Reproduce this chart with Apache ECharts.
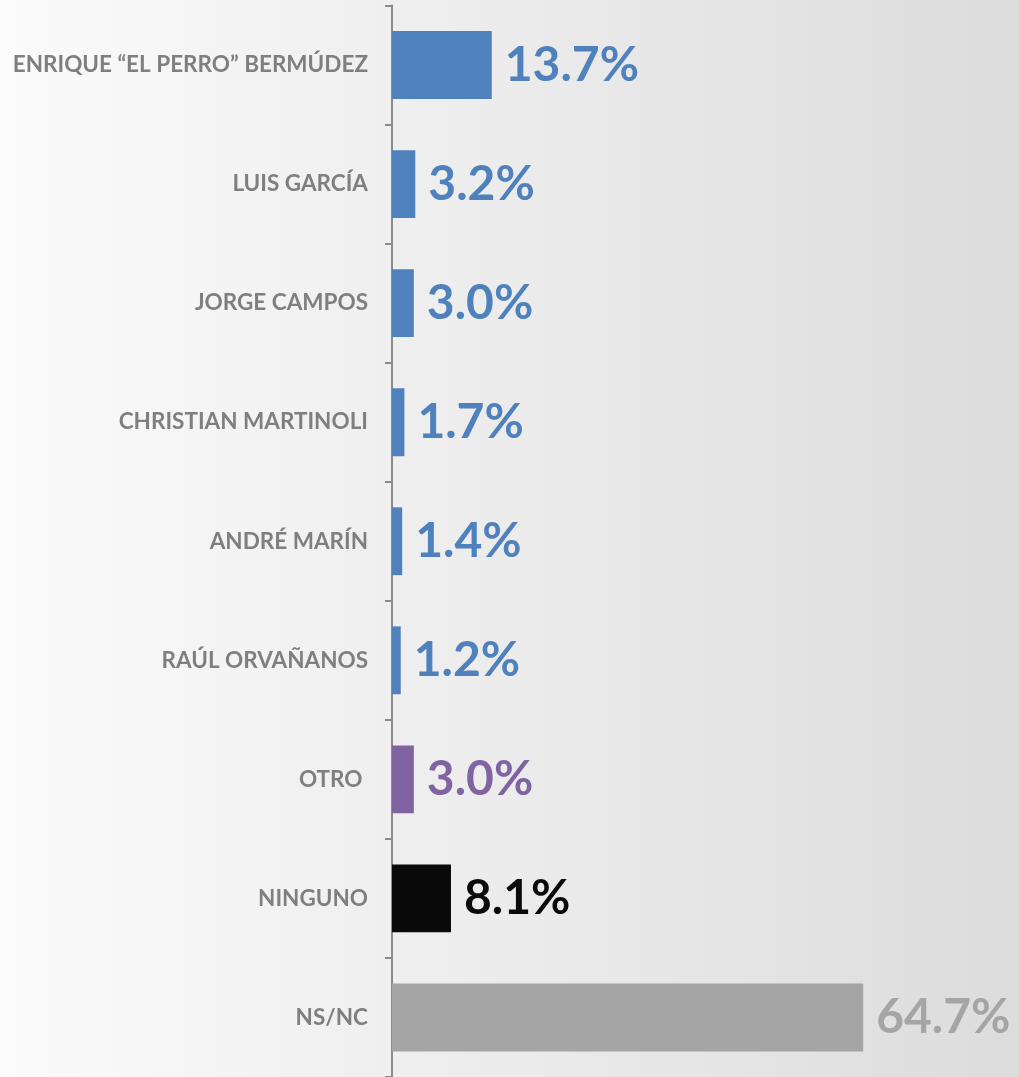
<!DOCTYPE html>
<html>
<head>
<meta charset="utf-8">
<script src="https://cdn.jsdelivr.net/npm/echarts@6/dist/echarts.min.js"></script>
<style>
html,body{margin:0;padding:0;}
#chart{width:1019px;height:1077px;}
</style>
</head>
<body>
<div id="chart"></div>
<script>
const categories = ['ENRIQUE “EL PERRO” BERMÚDEZ','LUIS GARCÍA','JORGE CAMPOS','CHRISTIAN MARTINOLI','ANDRÉ MARÍN','RAÚL ORVAÑANOS','OTRO ','NINGUNO','NS/NC'];
const values = [13.7, 3.2, 3.0, 1.7, 1.4, 1.2, 3.0, 8.1, 64.7];
const palette = ['#4f81bd','#4f81bd','#4f81bd','#4f81bd','#4f81bd','#4f81bd','#8064a2','#0a0a0a','#a5a5a5'];

const chart = echarts.init(document.getElementById('chart'));
chart.setOption({
  backgroundColor: new echarts.graphic.LinearGradient(0,0,1,0,[
    {offset:0,color:'#fbfbfb'},{offset:1,color:'#dcdcdc'}
  ]),
  animation:false,
  grid:{left:392, top:5.5, right:0, bottom:-4, containLabel:false},
  xAxis:{type:'value', min:0, max:86.1, show:false},
  yAxis:{
    type:'category', data:categories, inverse:true,
    axisLine:{show:true, lineStyle:{color:'#8a8a8a', width:2}},
    axisTick:{show:true, length:7, lineStyle:{color:'#8a8a8a', width:2}},
    axisLabel:{color:'#7f7f7f', fontFamily:'Lato', fontWeight:'bold', fontSize:22.5, margin:24}
  },
  series:[{
    type:'bar', data:values.map((v,i)=>({value:v, itemStyle:{color:palette[i]}, label:{color:palette[i]}})),
    barWidth:'57%',
    label:{show:true, position:'right', distance:13, fontFamily:'Lato', fontWeight:'bold', fontSize:48,
      formatter:p=>p.value.toFixed(1)+'%'}
  }]
});
</script>
</body>
</html>
